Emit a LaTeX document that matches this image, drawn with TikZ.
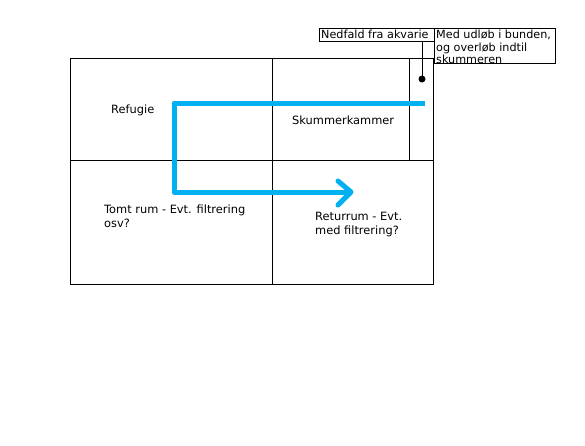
\documentclass[tikz,border=0pt]{standalone}
\usepackage{fontspec}
\setmainfont{DejaVu Sans}
\definecolor{flow}{RGB}{0,176,240}
\begin{document}
\begin{tikzpicture}[x=1pt,y=-1pt,
  grid/.style={draw=black,line width=1pt},
  lbl/.style={anchor=west,align=left,inner sep=0pt,font=\fontsize{11.4}{14}\selectfont},
  tag/.style={draw=black,line width=1pt,anchor=north west,inner sep=0pt},
  flowline/.style={draw=flow,line width=5pt,line join=round}]
\useasboundingbox[fill=white] (0,0) rectangle (585,445);
% tank
\draw[grid] (70,58) rectangle (433,284);
\draw[grid] (272,58) -- (272,284);
\draw[grid] (70,160) -- (433,160);
\draw[grid] (409,58) -- (409,160);
% labels
\node[lbl] (ref) at (111,110) {Refugie};
\node[lbl] (skum) at (292,120) {Skummerkammer};
\node[lbl] (tomt) at (104,216) {Tomt rum - Evt. filtrering\\osv?};
\node[lbl] (retur) at (315,225) {Returrum - Evt.\\med filtrering?};
% tag boxes
\node[tag,minimum width=115pt,minimum height=13pt] (ned) at (319,28) {};
\node[lbl,font=\fontsize{11.2}{14}\selectfont] (nedt) at (321,34.5) {Nedfald fra akvarie};
\node[tag,minimum width=121pt,minimum height=35pt] (med) at (434,28) {};
\node[lbl,font=\fontsize{11.2}{12.3}\selectfont] (medt) at (436,47) {Med udløb i bunden,\\og overløb indtil\\skummeren};
% pointer
\coordinate (dot) at (422,79);
\draw[line width=1pt] (ned.south -| dot) -- (dot);
\fill (dot) circle (3.5pt);
% flow arrow
\coordinate (f1) at (425,103);
\coordinate (f2) at (174,103);
\coordinate (f3) at (174,192);
\coordinate (f4) at (351,192);
\draw[flowline,line cap=butt] (f1) -- (f2) -- (f3) -- (f4);
\draw[flowline,line cap=round] (338,181) -- (f4) -- (338,205);
\end{tikzpicture}
\end{document}
